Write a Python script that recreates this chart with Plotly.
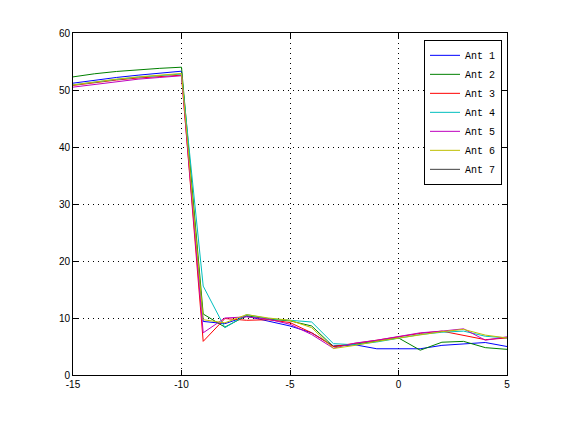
import plotly.graph_objects as go

x = [-15, -14, -13, -12, -11, -10, -9, -8, -7, -6, -5, -4, -3, -2, -1, 0, 1, 2, 3, 4, 5]

ant1 = [51.2, 51.75, 52.2, 52.6, 52.95, 53.3, 9.4, 9.0, 10.3, 9.5, 8.6, 7.4, 5.1, 5.3, 4.6, 4.6, 4.6, 5.2, 5.4, 5.7, 5.0]
ant2 = [52.3, 52.85, 53.25, 53.55, 53.8, 54.0, 10.7, 8.4, 10.4, 9.8, 9.5, 8.6, 5.0, 5.4, 6.0, 6.5, 4.35, 5.75, 5.9, 4.8, 4.5]
ant3 = [50.8, 51.3, 51.75, 52.1, 52.4, 52.6, 5.9, 9.9, 9.6, 9.7, 9.2, 7.4, 5.0, 5.5, 6.1, 6.7, 7.3, 7.7, 6.9, 6.2, 6.5]
ant4 = [50.9, 51.4, 51.85, 52.25, 52.55, 52.8, 15.6, 8.3, 10.6, 9.9, 9.6, 9.3, 5.5, 5.3, 5.8, 6.5, 7.1, 7.5, 7.7, 6.8, 6.5]
ant5 = [50.5, 51.0, 51.5, 51.9, 52.2, 52.5, 7.4, 10.0, 10.2, 9.8, 8.9, 7.1, 4.7, 5.6, 6.1, 6.8, 7.4, 7.7, 8.1, 6.1, 6.7]
ant6 = [50.9, 51.45, 51.9, 52.3, 52.6, 52.9, 9.7, 9.15, 10.6, 10.0, 9.6, 8.3, 4.65, 5.2, 5.9, 6.5, 7.1, 7.6, 8.0, 7.0, 6.5]
ant7 = []

names = ["Ant 1", "Ant 2", "Ant 3", "Ant 4", "Ant 5", "Ant 6", "Ant 7"]
series = [ant1, ant2, ant3, ant4, ant5, ant6, ant7]
colors = ["#0000FF", "#008000", "#FF0000", "#00BFBF", "#BF00BF", "#BFBF00", "#404040"]

xticks = [-15, -10, -5, 0, 5]
xticktext = ["-15", "-10", "-5", "0", "5"]
yticks = [0, 10, 20, 30, 40, 50, 60]
yticktext = ["0", "10", "20", "30", "40", "50", "60"]

fig = go.Figure()
for name, ys, c in zip(names, series, colors):
    fig.add_trace(go.Scatter(
        x=x[:len(ys)] if ys else [None], y=ys if ys else [None],
        mode="lines", name=name,
        line=dict(color=c, width=1),
    ))

axis_common = dict(
    showline=True, linecolor="black", linewidth=1, mirror="ticks",
    ticks="inside", ticklen=5, tickcolor="black", tickwidth=1,
    showgrid=True, gridcolor="black", gridwidth=1, griddash="1px,4px",
    zeroline=False,
    tickfont=dict(family="Liberation Sans, Arial, sans-serif", size=10, color="black"),
)

fig.update_xaxes(range=[-15, 5], tickvals=xticks, ticktext=xticktext, **axis_common)
fig.update_yaxes(range=[0, 60], tickvals=yticks, ticktext=yticktext, **axis_common)

fig.update_layout(
    width=561, height=422,
    margin=dict(l=65, r=62, t=25, b=55),
    paper_bgcolor="white", plot_bgcolor="white",
    showlegend=True,
    legend=dict(
        x=0.9885, y=0.98, xanchor="right", yanchor="top",
        bgcolor="white", bordercolor="black", borderwidth=1,
        font=dict(family="Liberation Mono, monospace", size=10, color="black"),
        tracegroupgap=0, itemwidth=30,
    ),
)

fig.write_html("out.html")
